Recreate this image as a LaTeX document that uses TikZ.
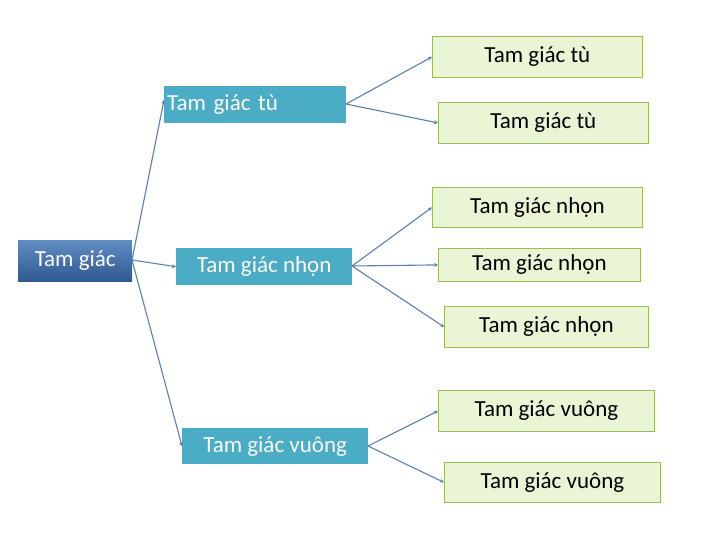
\documentclass[tikz,border=0pt]{standalone}
\usepackage{fontspec}
\setmainfont{Carlito}
\usetikzlibrary{arrows.meta}
\begin{document}
\begin{tikzpicture}[x=1pt,y=-1pt,
  every node/.style={font=\fontsize{23}{26}\selectfont},
  mid/.style={fill=midc, text=white, inner sep=0pt, anchor=north west},
  leaf/.style={fill=leafc, draw=leafd, line width=0.8pt, text=black, inner sep=0pt, anchor=north west},
  con/.style={draw=conc, line width=1.1pt, -{Stealth[length=4pt,width=4pt]}}]
\definecolor{midc}{HTML}{4BACC6}
\definecolor{leafc}{HTML}{EAF5D6}
\definecolor{leafd}{HTML}{9BBB59}
\definecolor{conc}{HTML}{5B7FAE}
\definecolor{rootc}{HTML}{3A6FB5}
\useasboundingbox (0,0) rectangle (720,540);
\node[inner sep=0pt, anchor=north west, minimum width=114, minimum height=41, text=white, top color=rootc!80!white, bottom color=rootc!80!black] (r) at (18,240) {Tam giác};
\node[mid, minimum width=182, minimum height=37, align=left, text width=176, inner xsep=3pt] (m1) at (164,86) {Tam giác tù};
\node[mid, minimum width=176, minimum height=37] (m2) at (176,248) {Tam giác nhọn};
\node[mid, minimum width=186, minimum height=36] (m3) at (182,428) {Tam giác vuông};
\node[leaf, minimum width=210, minimum height=41] (l1) at (432,36) {Tam giác tù};
\node[leaf, minimum width=210, minimum height=41] (l2) at (438,102) {Tam giác tù};
\node[leaf, minimum width=210, minimum height=40] (l3) at (432,187) {Tam giác nhọn};
\node[leaf, minimum width=202, minimum height=33] (l4) at (438,248) {Tam giác nhọn};
\node[leaf, minimum width=204, minimum height=41] (l5) at (444,306) {Tam giác nhọn};
\node[leaf, minimum width=216, minimum height=41] (l6) at (438,390) {Tam giác vuông};
\node[leaf, minimum width=216, minimum height=40] (l7) at (444,462) {Tam giác vuông};
\coordinate (ro) at (132,260);
\draw[con] (ro) -- (m1.west |- 0,100);
\draw[con] (ro) -- (m2.west);
\draw[con] (ro) -- (m3.west);
\coordinate (a) at (346,104);
\draw[con] (a) -- (l1.west);
\draw[con] (a) -- (l2.west);
\coordinate (b) at (352,266);
\draw[con] (b) -- (l3.west);
\draw[con] (b) -- (l4.west);
\draw[con] (b) -- (l5.west);
\coordinate (c) at (368,446);
\draw[con] (c) -- (l6.west);
\draw[con] (c) -- (l7.west);
\end{tikzpicture}
\end{document}
